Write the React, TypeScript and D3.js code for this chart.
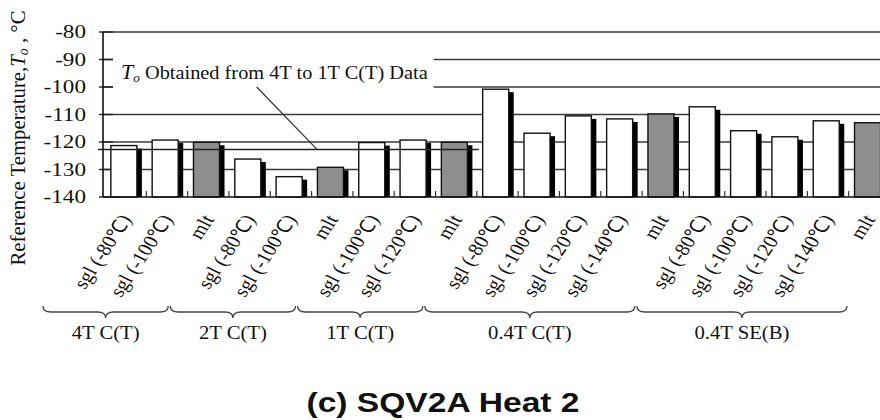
import { useEffect, useRef } from "react";
import * as d3 from "d3";

const W = 880;
const H = 420;

// categories (bar labels) in drawing order
const barLabels = [
  "sgl (-80℃)", "sgl (-100℃)", "mlt",
  "sgl (-80℃)", "sgl (-100℃)", "mlt",
  "sgl (-100℃)", "sgl (-120℃)", "mlt",
  "sgl (-80℃)", "sgl (-100℃)", "sgl (-120℃)", "sgl (-140℃)", "mlt",
  "sgl (-80℃)", "sgl (-100℃)", "sgl (-120℃)", "sgl (-140℃)", "mlt",
];
// reference temperature T0 (°C)
const t0Values = [
  -121.3, -119.3, -120.1,
  -126.2, -132.6, -129.2,
  -120.2, -119.3, -120.1,
  -100.8, -116.8, -110.5, -111.6, -109.8,
  -107.2, -115.9, -118.1, -112.3, -113.0,
];
const groupNames = ["4T C(T)", "2T C(T)", "1T C(T)", "0.4T C(T)", "0.4T SE(B)"];
const groupSizes = [3, 3, 3, 5, 5];
const yTicks = [-80, -90, -100, -110, -120, -130, -140];
const gridValues = [-80, -90, -100, -110, -120, -130];
const t0Small = -122.7; // T0 obtained from 4T to 1T C(T) data

const SERIF = "'Liberation Serif', 'Times New Roman', serif";
const SX = 1.2; // the figure is stretched horizontally

export default function App() {
  const svgRef = useRef<SVGSVGElement>(null);

  useEffect(() => {
    if (!svgRef.current) return;
    const svg = d3.select(svgRef.current);
    svg.selectAll("*").remove();

    const x = d3.scaleBand<number>().domain(d3.range(barLabels.length)).range([103, 888]).padding(0);
    const y = d3.scaleLinear().domain([-140, -80]).range([197, 32]);
    const bw = x.bandwidth();
    const left = 103;
    const right = W;
    const bottom = y(-140);

    // gridlines
    svg.append("g")
      .selectAll("line")
      .data(gridValues)
      .join("line")
      .attr("x1", left).attr("x2", right)
      .attr("y1", (d) => y(d)).attr("y2", (d) => y(d))
      .attr("stroke", "#3a3a3a").attr("stroke-width", 1.6);

    // annotation box hides upper gridlines on the left
    svg.append("rect")
      .attr("x", left + 10).attr("y", y(-87))
      .attr("width", x(8)! - left - 10).attr("height", y(-104.5) - y(-87))
      .attr("fill", "white");

    // y ticks (cross)
    svg.append("g")
      .selectAll("line")
      .data(yTicks)
      .join("line")
      .attr("x1", left - 4).attr("x2", left + 10)
      .attr("y1", (d) => y(d)).attr("y2", (d) => y(d))
      .attr("stroke", "#222").attr("stroke-width", 1.4);

    // y axis line
    svg.append("line")
      .attr("x1", left).attr("x2", left)
      .attr("y1", y(-80)).attr("y2", bottom)
      .attr("stroke", "#111").attr("stroke-width", 1.6);

    // y tick labels
    svg.append("g")
      .selectAll("text")
      .data(yTicks)
      .join("text")
      .attr("transform", (d) => `translate(86,${y(d)}) scale(1.25,1)`)
      .attr("dy", "0.35em")
      .attr("text-anchor", "end")
      .style("font-family", SERIF).style("font-size", "18.5px")
      .attr("fill", "#111")
      .text((d) => `${d}`);

    // bars: shadow + body
    const bars = svg.append("g");
    bars.selectAll("rect.shadow")
      .data(t0Values)
      .join("rect")
      .attr("class", "shadow")
      .attr("x", (_, i) => x(i)! + bw * 0.19 + bw * 0.63)
      .attr("y", (d) => y(d) + 3)
      .attr("width", 5)
      .attr("height", (d) => bottom - y(d) - 3)
      .attr("fill", "#000");
    bars.selectAll("rect.body")
      .data(t0Values)
      .join("rect")
      .attr("class", "body")
      .attr("x", (_, i) => x(i)! + bw * 0.19)
      .attr("y", (d) => y(d))
      .attr("width", bw * 0.63)
      .attr("height", (d) => bottom - y(d))
      .attr("fill", (_, i) => (barLabels[i] === "mlt" ? "#8e8e8e" : "#fff"))
      .attr("stroke", "#111").attr("stroke-width", 1.4);

    // x axis line and small ticks
    svg.append("line")
      .attr("x1", left).attr("x2", right)
      .attr("y1", bottom).attr("y2", bottom)
      .attr("stroke", "#111").attr("stroke-width", 1.6);
    svg.append("g")
      .selectAll("line")
      .data(d3.range(1, barLabels.length))
      .join("line")
      .attr("x1", (i) => x(i)! + 2).attr("x2", (i) => x(i)! + 2)
      .attr("y1", bottom - 6).attr("y2", bottom)
      .attr("stroke", "#333").attr("stroke-width", 1.2);

    // T0 line from 4T-1T data
    svg.append("line")
      .attr("x1", left - 5).attr("x2", x(9)! + 4)
      .attr("y1", y(t0Small)).attr("y2", y(t0Small))
      .attr("stroke", "#222").attr("stroke-width", 1.5);

    // annotation text and leader
    const ann = svg.append("text")
      .attr("transform", `translate(121,${y(-97.2)}) scale(1.1,1)`)
      .style("font-family", SERIF).style("font-size", "18.5px")
      .attr("fill", "#111");
    ann.append("tspan").style("font-style", "italic").style("font-size", "20px").text("T");
    ann.append("tspan").style("font-style", "italic").style("font-size", "12px").attr("dy", 3).text("o");
    ann.append("tspan").attr("dy", -3).text(" Obtained from 4T to 1T C(T) Data");
    svg.append("line")
      .attr("x1", x(3)! + bw * 0.72).attr("y1", y(-100))
      .attr("x2", x(5)! + bw * 0.18).attr("y2", y(t0Small))
      .attr("stroke", "#333").attr("stroke-width", 1.2);

    // rotated category labels
    svg.append("g")
      .selectAll("text")
      .data(barLabels)
      .join("text")
      .attr("transform", (_, i) => `translate(${x(i)! + bw * 0.5 + 2},216) scale(1.15,1) rotate(-60)`)
      .attr("dy", "0.35em")
      .attr("text-anchor", "end")
      .style("font-family", SERIF).style("font-size", "18.5px")
      .attr("fill", "#111")
      .text((d) => d);

    // group braces
    const gx = d3.scaleLinear().domain([0, barLabels.length]).range([42, 848]);
    const starts = groupSizes.map((_, i) => d3.sum(groupSizes.slice(0, i)));
    const braceTop = 306;
    const braceMid = 312;
    const braceTip = 318;
    const brace = (x1: number, x2: number) => {
      const xm = (x1 + x2) / 2;
      const r = 8;
      return `M${x1},${braceTop} Q${x1},${braceMid} ${x1 + r},${braceMid} L${xm - r},${braceMid} Q${xm},${braceMid} ${xm},${braceTip} Q${xm},${braceMid} ${xm + r},${braceMid} L${x2 - r},${braceMid} Q${x2},${braceMid} ${x2},${braceTop}`;
    };
    const groupsG = svg.append("g");
    groupsG.selectAll("path")
      .data(groupNames)
      .join("path")
      .attr("d", (_, i) => brace(gx(starts[i]) + 1, gx(starts[i] + groupSizes[i]) - 1))
      .attr("fill", "none").attr("stroke", "#444").attr("stroke-width", 1.3);
    groupsG.selectAll("text")
      .data(groupNames)
      .join("text")
      .attr("transform", (_, i) => `translate(${gx(starts[i] + groupSizes[i] / 2)},339) scale(1.15,1)`)
      .attr("text-anchor", "middle")
      .style("font-family", SERIF).style("font-size", "18px")
      .attr("fill", "#111")
      .text((d) => d);

    // y axis title
    const yt = svg.append("text")
      .attr("transform", `translate(25,138) scale(1.15,1) rotate(-90)`)
      .attr("text-anchor", "middle")
      .attr("textLength", 255).attr("lengthAdjust", "spacingAndGlyphs")
      .style("font-family", SERIF).style("font-size", "18px")
      .attr("fill", "#111");
    yt.append("tspan").text("Reference Temperature,");
    yt.append("tspan").style("font-style", "italic").text("T");
    yt.append("tspan").style("font-style", "italic").style("font-size", "12px").attr("dy", 3).text("o");
    yt.append("tspan").attr("dy", -3).text(" , °C");

    // title
    svg.append("text")
      .attr("transform", `translate(443,412) scale(${SX},1)`)
      .attr("text-anchor", "middle")
      .style("font-family", "'Liberation Sans', Arial, sans-serif")
      .style("font-size", "28px").style("font-weight", "bold")
      .attr("fill", "#111")
      .text("(c) SQV2A Heat 2");
  }, []);

  return (
    <div style={{ position: "absolute", left: 0, top: 0, width: W, height: H, background: "white" }}>
      <svg ref={svgRef} width={W} height={H} style={{ display: "block" }} />
    </div>
  );
}
